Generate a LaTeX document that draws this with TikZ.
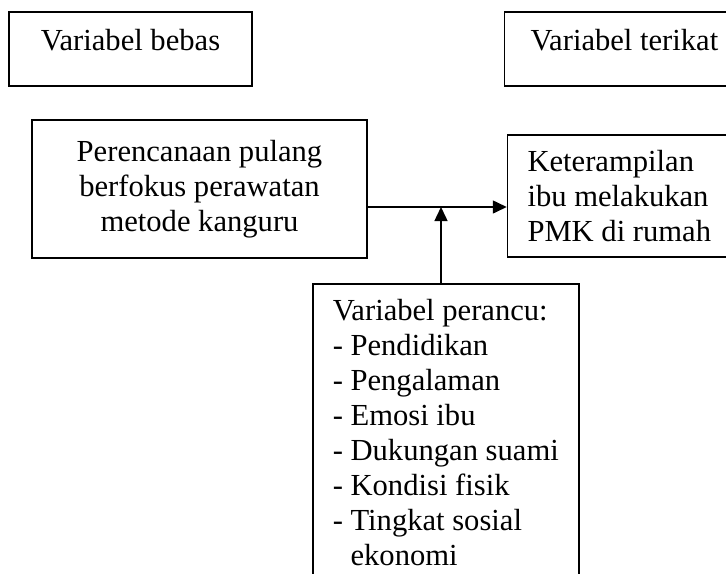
\documentclass[tikz,border=0pt]{standalone}
\usepackage{fontspec}
\setmainfont{Liberation Serif}
\usepackage{tikz}
\usetikzlibrary{positioning, arrows.meta}

\begin{document}
\begin{tikzpicture}[x=1pt, y=1pt, >={Triangle[length=7pt, width=6.5pt]}, line width=0.75pt,
  font=\fontsize{15.3pt}{17.5pt}\selectfont,
  kotak/.style={draw, rectangle, inner xsep=10pt}]
\useasboundingbox (0,0) rectangle (363,-286.5);
\clip (0,0) rectangle (363,-286.5);
\node (bebas) [kotak, minimum width=121.5pt, minimum height=37pt, text depth=9pt] at (65.25,-24.5) {Variabel bebas};
\node (terikat) [kotak, right=125.5pt of bebas, minimum height=37pt, text depth=9pt, text width=110pt, inner xsep=13pt, align=flush left] {Variabel terikat};
\node (rencana) [kotak, text width=147.5pt, minimum height=69pt, align=flush center] at (99.75,-94.5) {Perencanaan pulang\\ berfokus perawatan\\ metode kanguru};
\node (terampil) [kotak, right=69.5pt of rencana, yshift=-3.5pt, text width=100pt, minimum height=61pt, align=flush left] {Keterampilan\\ ibu melakukan\\ PMK di rumah};
\node (perancu) [kotak, anchor=north west, minimum width=132pt, inner ysep=8pt, align=flush left] at (156,-141.5) {Variabel perancu:\\ - Pendidikan\\ - Pengalaman\\ - Emosi ibu\\ - Dukungan suami\\ - Kondisi fisik\\ - Tingkat sosial\\ \phantom{- }ekonomi};
\coordinate (titik) at (220.5,-103.5);
\draw[->] (rencana.east |- titik) -- (terampil.west |- titik);
\draw[->] (perancu.north -| titik) -- (titik);
\end{tikzpicture}
\end{document}
